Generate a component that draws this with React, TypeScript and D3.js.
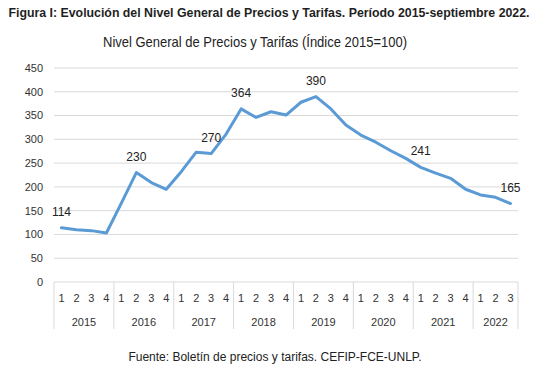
import * as d3 from 'd3'

// quarterly index values, 2015 Q1 .. 2022 Q3
const years = ['2015', '2016', '2017', '2018', '2019', '2020', '2021', '2022']
const quartersPerYear = [4, 4, 4, 4, 4, 4, 4, 3]
const values = [
  114, 110, 108, 103,
  166, 230, 209, 195,
  232, 273, 270, 311,
  364, 346, 358, 351,
  378, 390, 364, 330,
  309, 294, 276, 260,
  241, 229, 218, 195,
  183, 178, 165,
]
// which points carry a data label
const labelled = [0, 5, 10, 12, 17, 24, 30]
const yTicks = [0, 50, 100, 150, 200, 250, 300, 350, 400, 450]

const W = 550
const H = 372
const plot = { left: 54, right: 518, top: 68, bottom: 282 }
const font = '"Liberation Sans", Arial, sans-serif'
const lineColor = '#5b9bd5'

export default function App() {
  const cats = values.map((_, i) => i)
  const x = d3.scaleBand<number>().domain(cats).range([plot.left, plot.right])
  const y = d3.scaleLinear().domain([0, 450]).range([plot.bottom, plot.top])
  const cx = (i: number) => (x(i) as number) + x.bandwidth() / 2

  const line = d3.line<number>()
    .x((_, i) => cx(i))
    .y(v => y(v))

  // quarter labels + year groups
  const qLabels: { i: number, q: number }[] = []
  const groups: { year: string, start: number, end: number }[] = []
  let k = 0
  years.forEach((yr, gi) => {
    const start = k
    for (let q = 1; q <= quartersPerYear[gi]; q++) {
      qLabels.push({ i: k, q })
      k++
    }
    groups.push({ year: yr, start, end: k })
  })
  const edge = (i: number) => i >= values.length ? plot.right : (x(i) as number)

  return (
    <svg width={W} height={H} style={{ position: 'absolute', left: 0, top: 0, background: '#fff' }}
      fontFamily={font}>
      <text x={269} y={17} textAnchor="middle" fontSize={12} fontWeight="bold" fill="#1f1f1f"
        textLength={521} lengthAdjust="spacingAndGlyphs">
        Figura I: Evolución del Nivel General de Precios y Tarifas. Período 2015-septiembre 2022.
      </text>
      <text x={255} y={47} textAnchor="middle" fontSize={15} fill="#222"
        textLength={304} lengthAdjust="spacingAndGlyphs">
        Nivel General de Precios y Tarifas (Índice 2015=100)
      </text>

      {yTicks.map(t => (
        <g key={t}>
          <line x1={plot.left} x2={plot.right} y1={y(t)} y2={y(t)} stroke="#d9d9d9" strokeWidth={1} />
          <text x={43} y={y(t)} dy="0.35em" textAnchor="end" fontSize={11} fill="#333">{t}</text>
        </g>
      ))}

      {groups.map(g => (
        <g key={g.year}>
          <line x1={edge(g.start)} x2={edge(g.start)} y1={plot.bottom} y2={329} stroke="#d9d9d9" />
          <text x={(edge(g.start) + edge(g.end)) / 2} y={322} dy="0.35em" textAnchor="middle"
            fontSize={11} fill="#333">{g.year}</text>
        </g>
      ))}
      <line x1={plot.right} x2={plot.right} y1={plot.bottom} y2={329} stroke="#d9d9d9" />

      {qLabels.map(d => (
        <text key={d.i} x={cx(d.i)} y={298} dy="0.35em" textAnchor="middle" fontSize={11} fill="#333">
          {d.q}
        </text>
      ))}

      <path d={line(values) ?? ''} fill="none" stroke={lineColor} strokeWidth={3}
        strokeLinejoin="round" strokeLinecap="round" />

      {labelled.map(i => (
        <text key={i} x={cx(i)} y={y(values[i]) - 12} textAnchor="middle" fontSize={12} fill="#222">
          {values[i]}
        </text>
      ))}

      <text x={275} y={361} textAnchor="middle" fontSize={12} fill="#222">
        Fuente: Boletín de precios y tarifas. CEFIP-FCE-UNLP.
      </text>
    </svg>
  )
}
